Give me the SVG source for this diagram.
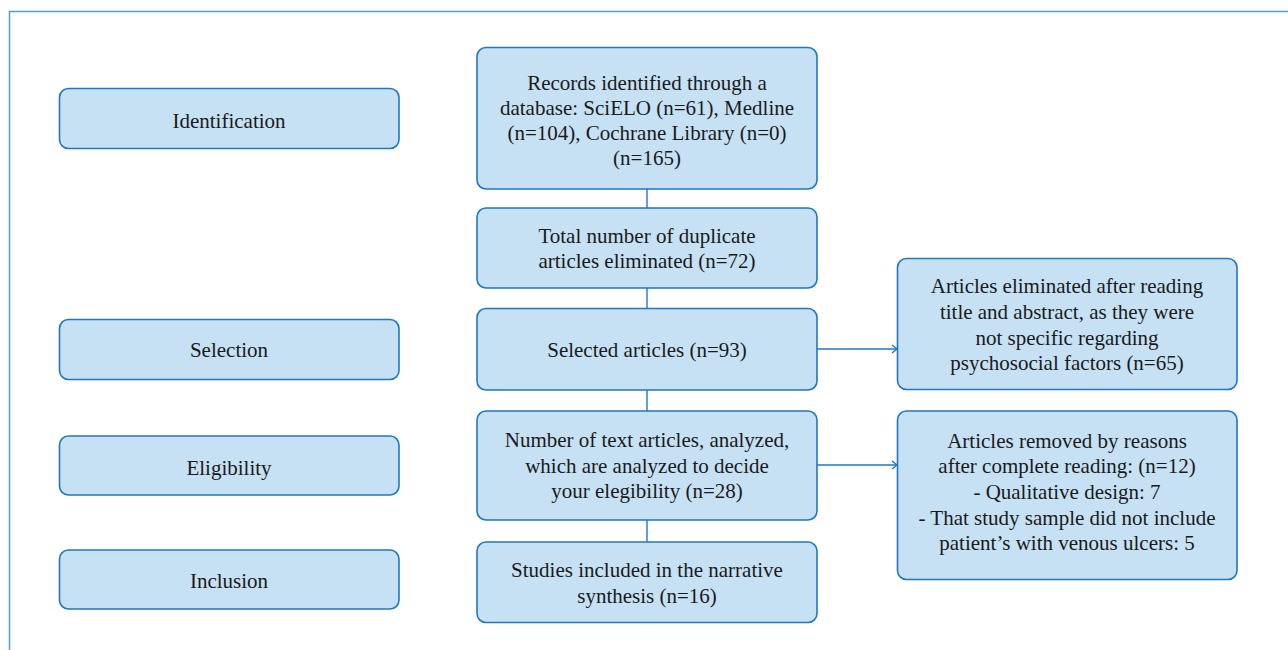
<svg xmlns="http://www.w3.org/2000/svg" width="1288" height="650" viewBox="0 0 1288 650">
<style>
.box{fill:#c6e1f4;stroke:#1f77c2;stroke-width:1.6}
.t{font-family:"Liberation Serif","Times New Roman",serif;font-size:21px;fill:#1a1a1a;text-anchor:middle}
.c{stroke:#1f77c2;stroke-width:1.4;fill:none}
</style>
<defs>
<marker id="arr" markerWidth="10" markerHeight="12" refX="7" refY="6" orient="auto" markerUnits="userSpaceOnUse">
<path d="M2,2 L7,6 L2,10" fill="none" stroke="#1f77c2" stroke-width="1.4"/>
</marker>
</defs>
<rect width="1288" height="650" fill="#fff"/>
<path d="M9.5,650 V11.5 H1288" fill="none" stroke="#4a9fd8" stroke-width="1.5"/>
<g id="connectors">
<line class="c" x1="647" y1="189" x2="647" y2="208"/>
<line class="c" x1="647" y1="288" x2="647" y2="308"/>
<line class="c" x1="647" y1="390" x2="647" y2="411"/>
<line class="c" x1="647" y1="520" x2="647" y2="542"/>
<line class="c" x1="817" y1="349" x2="897" y2="349" marker-end="url(#arr)"/>
<line class="c" x1="817" y1="465" x2="897" y2="465" marker-end="url(#arr)"/>
</g>
<g id="identification"><rect class="box" x="59.5" y="88.5" width="339.5" height="60" rx="9"/><text class="t" x="229" y="128">Identification</text></g>
<g id="selection"><rect class="box" x="59.5" y="319.5" width="339.5" height="60" rx="9"/><text class="t" x="229" y="357">Selection</text></g>
<g id="eligibility"><rect class="box" x="59.5" y="436" width="339.5" height="59" rx="9"/><text class="t" x="229" y="475">Eligibility</text></g>
<g id="inclusion"><rect class="box" x="59.5" y="550" width="339.5" height="59" rx="9"/><text class="t" x="229" y="588">Inclusion</text></g>
<g id="records"><rect class="box" x="477" y="47.5" width="340" height="141.5" rx="9"/>
<text class="t" x="647" y="90">Records identified through a</text>
<text class="t" x="647" y="115">database: SciELO (n=61), Medline</text>
<text class="t" x="647" y="140">(n=104), Cochrane Library (n=0)</text>
<text class="t" x="647" y="165">(n=165)</text></g>
<g id="duplicates"><rect class="box" x="477" y="208" width="340" height="80" rx="9"/>
<text class="t" x="647" y="243">Total number of duplicate</text>
<text class="t" x="647" y="268">articles eliminated (n=72)</text></g>
<g id="selected"><rect class="box" x="477" y="308.5" width="340" height="81.5" rx="9"/>
<text class="t" x="647" y="357">Selected articles (n=93)</text></g>
<g id="fulltext"><rect class="box" x="477" y="411" width="340" height="109" rx="9"/>
<text class="t" x="647" y="447">Number of text articles, analyzed,</text>
<text class="t" x="647" y="473">which are analyzed to decide</text>
<text class="t" x="647" y="498">your elegibility (n=28)</text></g>
<g id="included"><rect class="box" x="477" y="542" width="340" height="80.5" rx="9"/>
<text class="t" x="647" y="577">Studies included in the narrative</text>
<text class="t" x="647" y="603">synthesis (n=16)</text></g>
<g id="excluded1"><rect class="box" x="897.5" y="258.5" width="339.5" height="131" rx="9"/>
<text class="t" x="1067" y="293">Articles eliminated after reading</text>
<text class="t" x="1067" y="319">title and abstract, as they were</text>
<text class="t" x="1067" y="345">not specific regarding</text>
<text class="t" x="1067" y="370">psychosocial factors (n=65)</text></g>
<g id="excluded2"><rect class="box" x="897.5" y="411" width="339.5" height="168.5" rx="9"/>
<text class="t" x="1067" y="448">Articles removed by reasons</text>
<text class="t" x="1067" y="473">after complete reading: (n=12)</text>
<text class="t" x="1067" y="499">- Qualitative design: 7</text>
<text class="t" x="1067" y="525">- That study sample did not include</text>
<text class="t" x="1067" y="550">patient’s with venous ulcers: 5</text></g>
</svg>
